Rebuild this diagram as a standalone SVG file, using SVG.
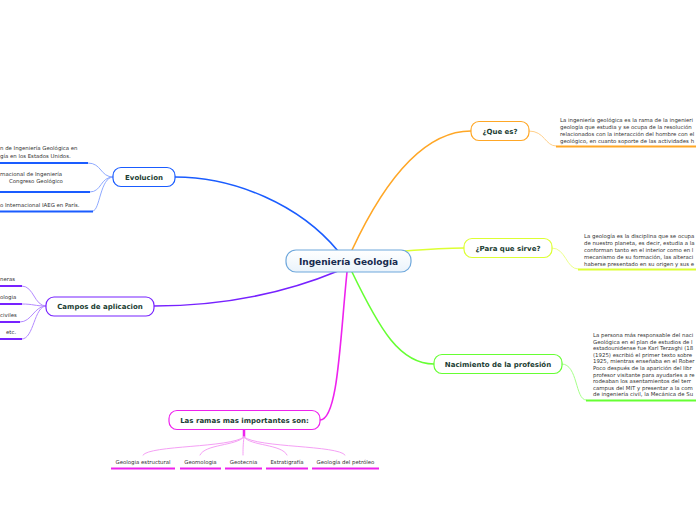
<svg xmlns="http://www.w3.org/2000/svg" width="696" height="520" viewBox="0 0 696 520">
<defs>
<linearGradient id="cg" x1="0" y1="0" x2="0" y2="1"><stop offset="0" stop-color="#ffffff"/><stop offset="1" stop-color="#eaf3fb"/></linearGradient>
<style>
.nt{font-family:"DejaVu Sans",Verdana,sans-serif;font-weight:bold;font-size:7px;fill:#1b3d33;text-anchor:middle}
.ct{font-family:"DejaVu Sans",Verdana,sans-serif;font-weight:bold;font-size:9px;fill:#172a4f;text-anchor:middle}
.st{font-family:"DejaVu Sans",Verdana,sans-serif;font-size:5.4px;fill:#333333}
.lb{font-family:"DejaVu Sans",Verdana,sans-serif;font-size:5.4px;fill:#333333;text-anchor:middle}
.c{fill:none;stroke-linecap:round}
</style>
</defs>
<rect width="696" height="520" fill="#ffffff"/>
<g id="connectors">
<path class="c" d="M338,251 C300,205 235,177 175,177" stroke="#1a5cff" stroke-width="1.6"/>
<path class="c" d="M352,250 C380,190 420,131 471,131" stroke="#ffa726" stroke-width="1.6"/>
<path class="c" d="M405,251 C430,249 445,248 464,248" stroke="#ddff33" stroke-width="1.6"/>
<path class="c" d="M352,272 C380,330 400,364 434,364" stroke="#66ff33" stroke-width="1.6"/>
<path class="c" d="M338,271 C280,295 220,306 154,306" stroke="#7722ff" stroke-width="1.6"/>
<path class="c" d="M347,272 C340,340 338,420 320,420" stroke="#ee22ee" stroke-width="1.6"/>
<path class="c" d="M529,131 C545,131 545,146 556,146" stroke="#ffd08a" stroke-width="1"/>
<path class="c" d="M552,248 C566,248 566,269 578,269" stroke="#ecff8a" stroke-width="1"/>
<path class="c" d="M562,364 C578,364 575,400 586,400" stroke="#a6ff8a" stroke-width="1"/>
<path class="c" d="M113,177 C100,177 102,163 88,163" stroke="#8faaff" stroke-width="1"/>
<path class="c" d="M113,177 C100,177 102,192 90,192" stroke="#8faaff" stroke-width="1"/>
<path class="c" d="M113,177 C100,177 100,211 93,211" stroke="#8faaff" stroke-width="1"/>
<path class="c" d="M46,306 C34,306 34,286 22,286" stroke="#b48aff" stroke-width="1"/>
<path class="c" d="M46,306 C34,306 34,304 22,304" stroke="#b48aff" stroke-width="1"/>
<path class="c" d="M46,306 C34,306 32,322 20,322" stroke="#b48aff" stroke-width="1"/>
<path class="c" d="M46,306 C34,306 34,339 22,339" stroke="#b48aff" stroke-width="1"/>
<path class="c" d="M244,430 L244,437" stroke="#ee22ee" stroke-width="2.5"/>
<path class="c" d="M244,437 C230,448 150,445 143,455" stroke="#f5a0f5" stroke-width="1"/>
<path class="c" d="M244,437 C236,446 205,444 200,455" stroke="#f5a0f5" stroke-width="1"/>
<path class="c" d="M244,437 C243,445 243,450 243,455" stroke="#f5a0f5" stroke-width="1"/>
<path class="c" d="M244,437 C250,446 282,444 287,455" stroke="#f5a0f5" stroke-width="1"/>
<path class="c" d="M244,437 C258,448 338,445 345,455" stroke="#f5a0f5" stroke-width="1"/>
</g>
<g id="central">
<rect x="286" y="250" width="125" height="22" rx="10" fill="url(#cg)" stroke="#6fa8dc" stroke-width="1.2"/>
<text class="ct" x="348.5" y="264.5">Ingeniería Geología</text>
</g>
<g id="que-es">
<rect x="471" y="121.5" width="58" height="19" rx="8" fill="#ffffff" stroke="#ffa726" stroke-width="1.2"/>
<text class="nt" x="500" y="133.5">¿Que es?</text>
</g>
<g id="que-es-text">
<text class="st" x="560" y="122">La ingeniería geológica es la rama de la ingenieri</text>
<text class="st" x="560" y="129">geología que estudia y se ocupa de la resolución</text>
<text class="st" x="560" y="136">relacionados con la interacción del hombre con el</text>
<text class="st" x="560" y="143">geológico, en cuanto soporte de las actividades h</text>
<line x1="556" y1="146.5" x2="696" y2="146.5" stroke="#ffa726" stroke-width="2"/>
</g>
<g id="para-que-sirve">
<rect x="464" y="238.5" width="88" height="19" rx="8" fill="#ffffff" stroke="#ddff33" stroke-width="1.2"/>
<text class="nt" x="508" y="250.5">¿Para que sirve?</text>
</g>
<g id="para-text">
<text class="st" x="584" y="238">La geología es la disciplina que se ocupa</text>
<text class="st" x="584" y="245">de nuestro planeta, es decir, estudia a la</text>
<text class="st" x="584" y="252">conforman tanto en el interior como en l</text>
<text class="st" x="584" y="259">mecanismo de su formación, las alteraci</text>
<text class="st" x="584" y="266">haberse presentado en su origen y sus e</text>
<line x1="578" y1="269.5" x2="696" y2="269.5" stroke="#ddff33" stroke-width="2"/>
</g>
<g id="nacimiento">
<rect x="434" y="354.5" width="128" height="19" rx="8" fill="#ffffff" stroke="#66ff33" stroke-width="1.2"/>
<text class="nt" x="498" y="366.5">Nacimiento de la profesión</text>
</g>
<g id="nacimiento-text">
<text class="st" x="593" y="337">La persona más responsable del naci</text>
<text class="st" x="593" y="343.6">Geológica en el plan de estudios de l</text>
<text class="st" x="593" y="350.2">estadounidense fue Karl Terzaghi (18</text>
<text class="st" x="593" y="356.8">(1925) escribió el primer texto sobre</text>
<text class="st" x="593" y="363.4">1925, mientras enseñaba en el Rober</text>
<text class="st" x="593" y="370">Poco después de la aparición del libr</text>
<text class="st" x="593" y="376.6">profesor visitante para ayudarles a re</text>
<text class="st" x="593" y="383.2">rodeaban los asentamientos del terr</text>
<text class="st" x="593" y="389.8">campus del MIT y presentar a la com</text>
<text class="st" x="593" y="396.4">de ingeniería civil, la Mecánica de Su</text>
<line x1="586" y1="400.5" x2="696" y2="400.5" stroke="#66ff33" stroke-width="2"/>
</g>
<g id="evolucion">
<rect x="113" y="167.5" width="62" height="19" rx="8" fill="#ffffff" stroke="#1a5cff" stroke-width="1.2"/>
<text class="nt" x="144" y="179.5">Evolucion</text>
</g>
<g id="evolucion-items">
<text class="st" x="0" y="150">n de Ingeniería Geológica en</text>
<text class="st" x="0" y="157.5">gía en los Estados Unidos.</text>
<line x1="0" y1="163" x2="88" y2="163" stroke="#1a5cff" stroke-width="2"/>
<text class="st" x="0" y="176">rnacional de Ingeniería</text>
<text class="st" x="9" y="183">Congreso Geológico</text>
<line x1="0" y1="192" x2="90" y2="192" stroke="#1a5cff" stroke-width="2"/>
<text class="st" x="0" y="207">o Internacional IAEG en París.</text>
<line x1="0" y1="211.5" x2="93" y2="211.5" stroke="#1a5cff" stroke-width="2"/>
</g>
<g id="campos">
<rect x="46" y="297" width="108" height="19" rx="8" fill="#ffffff" stroke="#7722ff" stroke-width="1.2"/>
<text class="nt" x="100" y="309">Campos de aplicacion</text>
</g>
<g id="campos-items">
<text class="st" x="0" y="281">neras</text>
<line x1="0" y1="286" x2="22" y2="286" stroke="#7722ff" stroke-width="2"/>
<text class="st" x="0" y="299">ologia</text>
<line x1="0" y1="304" x2="22" y2="304" stroke="#7722ff" stroke-width="2"/>
<text class="st" x="0" y="316.5">civiles</text>
<line x1="0" y1="322" x2="20" y2="322" stroke="#7722ff" stroke-width="2"/>
<text class="st" x="6" y="334">etc.</text>
<line x1="0" y1="339" x2="22" y2="339" stroke="#7722ff" stroke-width="2"/>
</g>
<g id="ramas">
<rect x="169" y="410.5" width="151" height="19" rx="8" fill="#ffffff" stroke="#ee22ee" stroke-width="1.2"/>
<text class="nt" x="244.5" y="422.5">Las ramas mas importantes son:</text>
</g>
<g id="ramas-items">
<text class="lb" x="143" y="464">Geologia estructural</text>
<line x1="111" y1="468.5" x2="175" y2="468.5" stroke="#ee22ee" stroke-width="2"/>
<text class="lb" x="200.5" y="464">Geomologia</text>
<line x1="180" y1="468.5" x2="221" y2="468.5" stroke="#ee22ee" stroke-width="2"/>
<text class="lb" x="243.5" y="464">Geotecnia</text>
<line x1="225" y1="468.5" x2="262" y2="468.5" stroke="#ee22ee" stroke-width="2"/>
<text class="lb" x="287" y="464">Estratigrafía</text>
<line x1="266" y1="468.5" x2="308" y2="468.5" stroke="#ee22ee" stroke-width="2"/>
<text class="lb" x="345.5" y="464">Geología del petróleo</text>
<line x1="312" y1="468.5" x2="379" y2="468.5" stroke="#ee22ee" stroke-width="2"/>
</g>
</svg>
